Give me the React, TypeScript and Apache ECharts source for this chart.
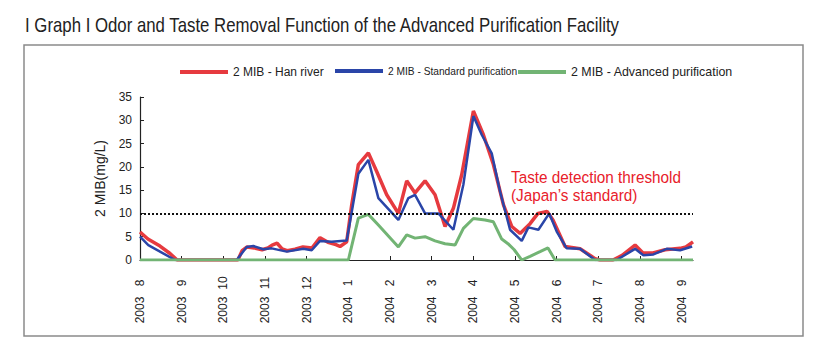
import React, { useEffect, useRef } from "react";
import * as echarts from "echarts";

// x = months after the "Aug 2003" tick, y = 2 MIB (mg/L)
const hanRiver: [number, number][] = [
  [0, 6.0], [0.19, 4.5], [0.48, 3.0], [0.72, 1.4], [0.89, 0], [2.35, 0], [2.45, 2.0],
  [2.57, 2.8], [2.74, 2.6], [2.93, 2.2], [3.07, 2.6], [3.17, 3.2], [3.29, 3.6], [3.41, 2.4],
  [3.53, 2.0], [3.72, 2.3], [3.91, 2.8], [4.13, 2.6], [4.32, 4.8], [4.51, 3.8], [4.7, 3.3],
  [4.8, 2.9], [4.96, 3.9], [5.08, 11.8], [5.24, 20.5], [5.48, 23.0], [5.68, 19.0], [5.92, 14.0],
  [6.2, 10.0], [6.4, 17.0], [6.6, 14.4], [6.84, 17.0], [7.08, 14.0], [7.32, 7.2], [7.52, 11.1],
  [7.72, 18.3], [8.0, 32.0], [8.24, 26.9], [8.48, 20.5], [8.72, 11.9], [8.92, 7.2], [9.12, 5.7],
  [9.36, 7.8], [9.55, 10.0], [9.77, 10.4], [9.91, 8.6], [10.2, 2.9], [10.56, 2.4], [10.92, 0.3],
  [11.04, 0], [11.35, 0], [11.57, 1.0], [11.88, 3.2], [12.07, 1.5], [12.31, 1.5], [12.6, 2.2],
  [12.96, 2.5], [13.1, 2.8], [13.27, 3.9],
];

const standard: [number, number][] = [
  [0, 5.0], [0.2, 3.2], [0.84, 0], [2.32, 0], [2.56, 2.8], [2.72, 3.0], [2.96, 2.3], [3.16, 2.5],
  [3.52, 1.8], [3.92, 2.4], [4.12, 2.1], [4.32, 4.1], [4.6, 3.9], [4.96, 4.2], [5.04, 8.2],
  [5.24, 18.5], [5.48, 21.5], [5.72, 13.3], [6.2, 8.6], [6.44, 13.3], [6.6, 14.0], [6.84, 10.0],
  [7.16, 10.0], [7.52, 6.5], [7.76, 16.2], [8.0, 30.9], [8.2, 26.9], [8.44, 22.9], [8.64, 14.7],
  [8.88, 6.5], [9.16, 4.1], [9.32, 7.0], [9.56, 6.5], [9.82, 10.0], [10.0, 6.1], [10.24, 2.5],
  [10.56, 2.4], [10.92, 0], [11.44, 0], [11.88, 2.4], [12.08, 1.0], [12.32, 1.2], [12.64, 2.4],
  [12.96, 2.1], [13.25, 2.9],
];

const advanced: [number, number][] = [
  [0, 0], [5.0, 0], [5.24, 9.0], [5.48, 9.8], [5.72, 7.5], [6.2, 2.8], [6.4, 5.4], [6.6, 4.7],
  [6.84, 5.0], [7.08, 4.1], [7.32, 3.5], [7.56, 3.2], [7.76, 6.8], [8.0, 8.9], [8.28, 8.6],
  [8.48, 8.2], [8.68, 4.5], [8.83, 3.5], [8.98, 2.2], [9.16, 0], [9.36, 0.8], [9.6, 1.8],
  [9.79, 2.6], [9.96, 0], [13.27, 0],
];

const monthLabels = ["8", "9", "10", "11", "12", "1", "2", "3", "4", "5", "6", "7", "8", "9"];
const yearLabels = ["2003", "2003", "2003", "2003", "2003", "2004", "2004", "2004", "2004", "2004", "2004", "2004", "2004", "2004"];
const seriesNames = ["2 MIB - Han river", "2 MIB - Standard purification", "2 MIB - Advanced purification"];
const thresholdValue = 10;

const SANS = "'Liberation Sans', Arial, Helvetica, sans-serif";

export default function App() {
  const ref = useRef<HTMLDivElement>(null);
  useEffect(() => {
    document.body.style.margin = "0";
    if (!ref.current) return;
    const chart = echarts.init(ref.current, null, { renderer: "svg" });
    const xMax = 13.27;
    const labelAt = (arr: string[]) => (v: number) => {
      const i = Math.round(v);
      return Math.abs(v - i) < 1e-6 && arr[i] !== undefined ? arr[i] : "";
    };
    const legendBase = {
      top: 66,
      itemWidth: 48,
      itemHeight: 4,
      icon: "rect",
      padding: 0,
      itemGap: 0,
    };
    chart.setOption({
      animation: false,
      backgroundColor: "#ffffff",
      legend: [
        { ...legendBase, left: 180, data: [seriesNames[0]], textStyle: { fontFamily: SANS, color: "#222", fontSize: 12 } },
        { ...legendBase, left: 335, data: [seriesNames[1]], textStyle: { fontFamily: SANS, color: "#222", fontSize: 10.2 } },
        { ...legendBase, left: 518, data: [seriesNames[2]], textStyle: { fontFamily: SANS, color: "#222", fontSize: 12.4 } },
      ],
      grid: { left: 140, right: 828 - 693, top: 97, bottom: 364 - 260, containLabel: false },
      xAxis: [
        {
          type: "value",
          min: 0,
          max: xMax,
          interval: 1,
          axisLine: { lineStyle: { color: "#222", width: 1.2 } },
          axisTick: { inside: true, length: 4, lineStyle: { color: "#222" } },
          splitLine: { show: false },
          axisLabel: {
            rotate: 90,
            align: "center",
            verticalAlign: "middle",
            margin: 23,
            padding: [10, 0, 0, 0],
            fontSize: 12,
            fontFamily: SANS,
            color: "#222",
            showMaxLabel: false,
            formatter: labelAt(monthLabels),
          },
        },
        {
          type: "value",
          min: 0,
          max: xMax,
          interval: 1,
          position: "bottom",
          axisLine: { show: false },
          axisTick: { show: false },
          splitLine: { show: false },
          axisLabel: {
            rotate: 90,
            align: "center",
            verticalAlign: "middle",
            margin: 50,
            padding: [10, 0, 0, 0],
            fontSize: 12,
            fontFamily: SANS,
            color: "#222",
            showMaxLabel: false,
            formatter: labelAt(yearLabels),
          },
        },
      ],
      yAxis: {
        type: "value",
        min: 0,
        max: 35,
        interval: 5,
        name: "2 MIB(mg/L)",
        nameLocation: "middle",
        nameGap: 33,
        nameTextStyle: { fontFamily: SANS, fontSize: 14, color: "#222" },
        axisLine: { show: true, lineStyle: { color: "#222", width: 1.2 } },
        axisTick: { show: true, inside: true, length: 4, lineStyle: { color: "#222" } },
        splitLine: { show: false },
        axisLabel: { fontFamily: SANS, fontSize: 12, color: "#222", margin: 8 },
      },
      series: [
        {
          name: seriesNames[0],
          type: "line",
          data: hanRiver,
          showSymbol: false,
          color: "#e63a3f",
          lineStyle: { color: "#e63a3f", width: 3.5 },
          z: 2,
        },
        {
          name: seriesNames[1],
          type: "line",
          data: standard,
          showSymbol: false,
          color: "#2a45a8",
          lineStyle: { color: "#2a45a8", width: 2.5 },
          z: 3,
          markLine: {
            silent: true,
            symbol: "none",
            label: { show: false },
            lineStyle: { color: "#111", type: [2, 2], width: 2 },
            data: [{ yAxis: thresholdValue }],
          },
        },
        {
          name: seriesNames[2],
          type: "line",
          data: advanced,
          showSymbol: false,
          color: "#72b474",
          lineStyle: { color: "#72b474", width: 3 },
          z: 4,
        },
      ],
      graphic: [
        {
          type: "rect",
          shape: { x: 24, y: 45, width: 779, height: 291 },
          style: { fill: "none", stroke: "#8a8a8a", lineWidth: 1.5 },
          silent: true,
          z: -1,
        },
        {
          type: "text",
          x: 25,
          y: 25,
          scaleX: 0.84,
          style: {
            text: "I Graph I Odor and Taste Removal Function of the Advanced Purification Facility",
            fill: "#222",
            font: `20px ${SANS}`,
            verticalAlign: "middle",
          },
        },
        {
          type: "text",
          x: 511,
          y: 176.6,
          scaleX: 0.9,
          style: {
            text: "Taste detection threshold",
            fill: "#e8202a",
            font: `17px ${SANS}`,
            verticalAlign: "middle",
          },
        },
        {
          type: "text",
          x: 511,
          y: 194.6,
          scaleX: 0.9,
          style: {
            text: "(Japan\u2019s standard)",
            fill: "#e8202a",
            font: `17px ${SANS}`,
            verticalAlign: "middle",
          },
        },
      ],
    });
    return () => chart.dispose();
  }, []);
  return <div ref={ref} style={{ width: 828, height: 364 }} />;
}
